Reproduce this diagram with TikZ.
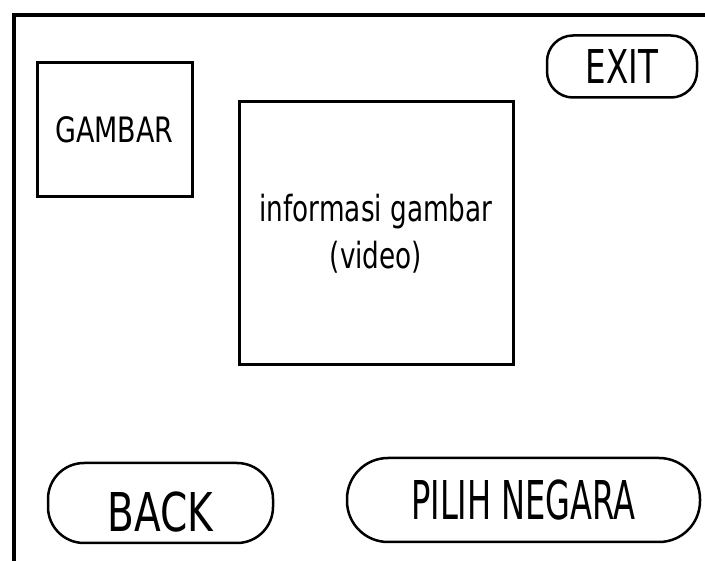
\documentclass[tikz,border=0pt]{standalone}
\usepackage{fontspec}
\usepackage{tikz}
\newfontfamily\sketchfont{DejaVu Sans}
\newcommand{\uifont}[3]{\sketchfont\fontsize{#1pt}{#2pt}\selectfont\addfontfeature{FakeStretch=#3}}

\begin{document}
\begin{tikzpicture}[x=1pt, y=-1pt,
  panel/.style={draw, line width=3pt, inner sep=0pt},
  tombol/.style={draw, line width=2.5pt, inner sep=0pt}]
  \useasboundingbox (0,0) rectangle (705,561);
  % layar (screen frame)
  \draw[line width=4pt] (14,561) -- (14,15) -- (705,15);
  \node[panel, minimum width=155pt, minimum height=134pt, font=\uifont{35}{40}{0.77}] (gambar) at (114.5,130) {GAMBAR};
  \node[panel, minimum width=274pt, minimum height=263pt, align=center, font=\uifont{36}{47}{0.73}] (video) at (376,233.5) {informasi gambar\\(video)};
  % tombol
  \node[tombol, rounded corners=26pt, minimum width=150pt, minimum height=62pt, font=\uifont{46.6}{50}{0.70}] (exit) at (622,66.5) {EXIT};
  \node[tombol, rounded corners=36pt, minimum width=225pt, minimum height=80pt, text height=57pt, font=\uifont{53.5}{60}{0.73}] (back) at (160.5,503) {BACK};
  \node[tombol, rounded corners=41pt, minimum width=353pt, minimum height=84pt, font=\uifont{53.5}{60}{0.60}] (pilih) at (523.5,500) {PILIH NEGARA};
\end{tikzpicture}
\end{document}
